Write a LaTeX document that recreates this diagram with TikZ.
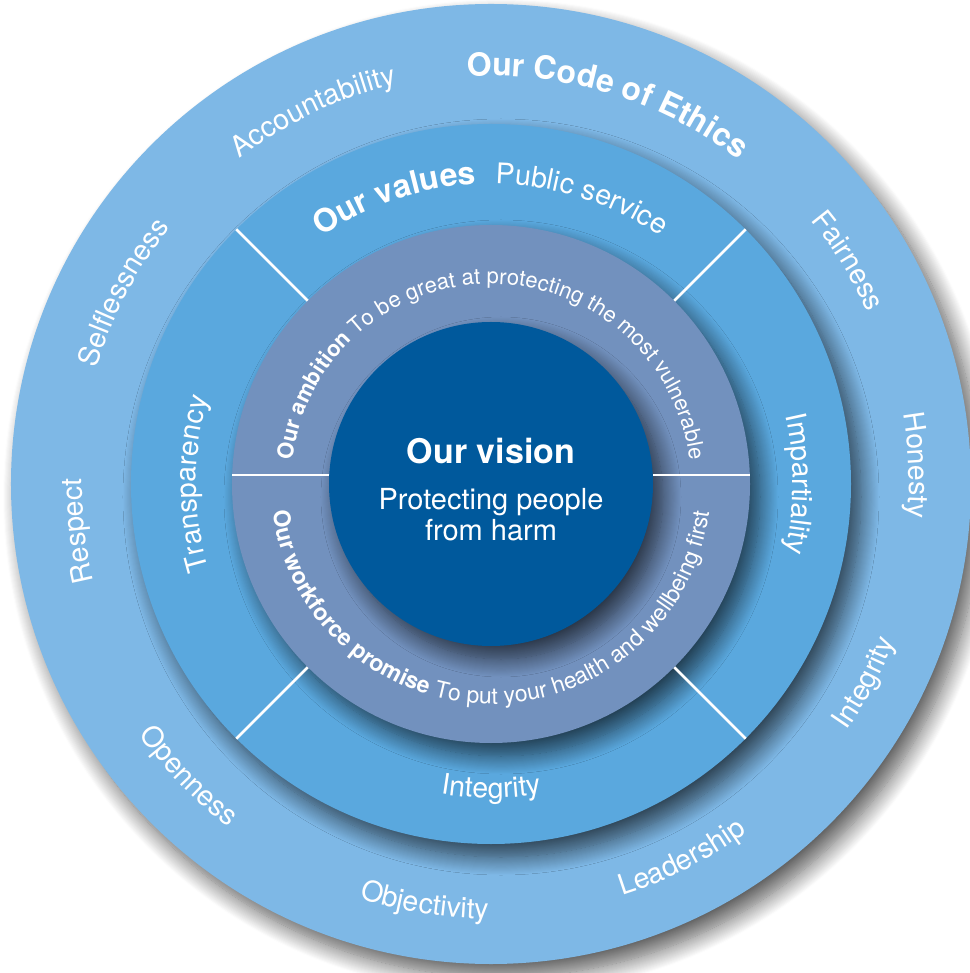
\documentclass[tikz,border=0pt]{standalone}
\usepackage{fontspec}
\setmainfont{TeX Gyre Heros}
\usetikzlibrary{decorations.text,shadows.blur}

\definecolor{ethicsblue}{HTML}{7EB8E6}
\definecolor{valuesblue}{HTML}{5AA8DE}
\definecolor{ambitiongrey}{HTML}{7291BE}
\definecolor{visionblue}{HTML}{00599C}

\newcommand\wordfont{\fontsize{28.5}{28.5}\selectfont}
\newcommand\headfont{\fontsize{32}{32}\selectfont\bfseries}
\newcommand\ringfont{\fontsize{22}{22}\selectfont}
\newcommand\ringhead{\fontsize{22}{22}\selectfont\bfseries}
\newcommand\promfont{\fontsize{23}{23}\selectfont}
\newcommand\promhead{\fontsize{23}{23}\selectfont\bfseries}

\begin{document}
\begin{tikzpicture}[x=1pt,y=1pt,
    disc/.style={circle, inner sep=0pt, minimum size=#1,
      blur shadow={shadow xshift=10pt, shadow yshift=-13pt, shadow blur radius=18pt,
                   shadow blur steps=18, shadow opacity=65}},
    divider/.style={white, line width=2.5pt},
    ontop/.style={decorate, decoration={text along path, text align=center,
                  text color=white, text={#1}}}]

  \useasboundingbox (-491,-489) rectangle (478,484);

  % the four discs, outside in
  \node[disc=960pt, fill=ethicsblue]   (ethics)   at (0,0) {};
  \node[disc=720pt, fill=valuesblue]   (values)   at (0,0) {};
  \node[disc=518pt, fill=ambitiongrey] (ambition) at (0,0) {};
  \node[disc=324pt, fill=visionblue]   (vision)   at (0,0) {};

  % dividers
  \foreach \a in {45,135,225,315}
    \draw[divider] (ambition.\a) -- (values.\a);
  \draw[divider] ([yshift=9pt]vision.west) -- ([yshift=9pt]ambition.west);
  \draw[divider] ([yshift=9pt]vision.east) -- ([yshift=9pt]ambition.east);

  % centre
  \node[font=\fontsize{34}{34}\selectfont\bfseries, text=white, anchor=base] (visiontitle) at (0,20) {Our vision};
  \node[font=\fontsize{29}{29}\selectfont, text=white, anchor=base] (visionline1) at (0,-26) {Protecting people};
  \node[font=\fontsize{29}{29}\selectfont, text=white, anchor=base] (visionline2) at (0,-57) {from harm};

  % ambition ring
  \path[ontop={|\ringhead|Our ambition|\ringfont| To be great at protecting the most vulnerable}]
    (182:200) arc[start angle=182, end angle=-2, radius=200];
  \path[ontop={|\promhead|Our workforce promise|\promfont| To put your health and wellbeing first}]
    (176:220) arc[start angle=176, end angle=364, radius=220];

  % values ring
  \path[ontop={|\headfont|Our values |\wordfont|{\hspace{10pt}}Public service}]
    (170:300) arc[start angle=170, end angle=10, radius=300];
  \path[ontop={|\wordfont|Impartiality}]
    (40:302) arc[start angle=40, end angle=-40, radius=302];
  \path[ontop={|\wordfont|Transparency}]
    (220:295) arc[start angle=220, end angle=140, radius=295];
  \path[ontop={|\wordfont|Integrity}]
    (240:314) arc[start angle=240, end angle=300, radius=314];

  % code of ethics ring
  \path[ontop={|\headfont|Our Code of Ethics}]
    (108:408) arc[start angle=108, end angle=38, radius=408];
  \path[ontop={|\wordfont|Accountability}]
    (145:411) arc[start angle=145, end angle=86, radius=411];
  \path[ontop={|\wordfont|Selflessness}]
    (180:411) arc[start angle=180, end angle=125, radius=411];
  \path[ontop={|\wordfont|Respect}]
    (210:409) arc[start angle=210, end angle=163, radius=409];
  \path[ontop={|\wordfont|Fairness}]
    (55:414) arc[start angle=55, end angle=9, radius=414];
  \path[ontop={|\wordfont|Honesty}]
    (25:418) arc[start angle=25, end angle=-20, radius=418];
  \path[ontop={|\wordfont|Openness}]
    (200:432) arc[start angle=200, end angle=248, radius=432];
  \path[ontop={|\wordfont|Objectivity}]
    (238:435) arc[start angle=238, end angle=284, radius=435];
  \path[ontop={|\wordfont|Leadership}]
    (274:432) arc[start angle=274, end angle=320, radius=432];
  \path[ontop={|\wordfont|Integrity}]
    (309:433) arc[start angle=309, end angle=355, radius=433];

\end{tikzpicture}
\end{document}
